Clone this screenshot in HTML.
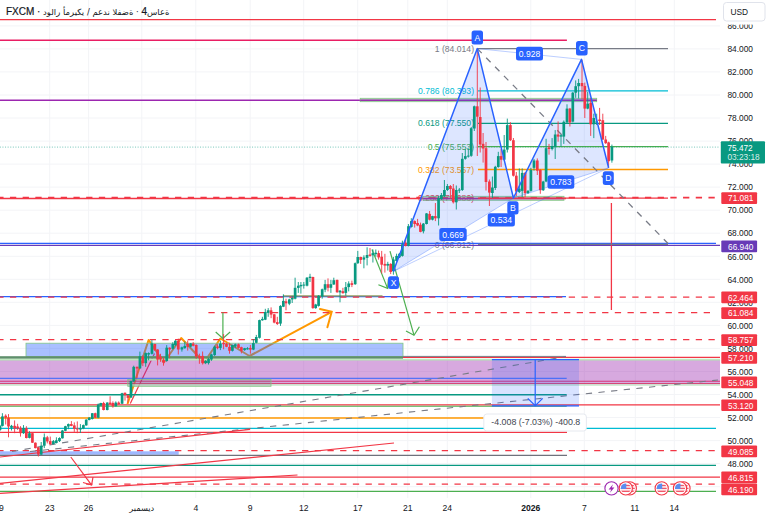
<!DOCTYPE html>
<html><head><meta charset="utf-8"><title>chart</title>
<style>html,body{margin:0;padding:0;background:#fff;}body{width:768px;height:518px;overflow:hidden;font-family:"Liberation Sans","DejaVu Sans",sans-serif}svg{display:block}</style>
</head><body>
<svg width="768" height="518" viewBox="0 0 768 518" font-family="'Liberation Sans', 'DejaVu Sans', sans-serif">
<rect width="768" height="518" fill="#fff"/>
<g stroke="#f3f4f7" stroke-width="1">
<line x1="49.7" y1="0" x2="49.7" y2="498"/>
<line x1="88.6" y1="0" x2="88.6" y2="498"/>
<line x1="141.8" y1="0" x2="141.8" y2="498"/>
<line x1="195.8" y1="0" x2="195.8" y2="498"/>
<line x1="250.2" y1="0" x2="250.2" y2="498"/>
<line x1="303.7" y1="0" x2="303.7" y2="498"/>
<line x1="357.7" y1="0" x2="357.7" y2="498"/>
<line x1="407.8" y1="0" x2="407.8" y2="498"/>
<line x1="447.3" y1="0" x2="447.3" y2="498"/>
<line x1="530.8" y1="0" x2="530.8" y2="498"/>
<line x1="584.3" y1="0" x2="584.3" y2="498"/>
<line x1="635.3" y1="0" x2="635.3" y2="498"/>
<line x1="674.3" y1="0" x2="674.3" y2="498"/>
<line x1="0" y1="486.7" x2="720" y2="486.7"/>
<line x1="0" y1="463.6" x2="720" y2="463.6"/>
<line x1="0" y1="440.6" x2="720" y2="440.6"/>
<line x1="0" y1="417.5" x2="720" y2="417.5"/>
<line x1="0" y1="394.5" x2="720" y2="394.5"/>
<line x1="0" y1="371.5" x2="720" y2="371.5"/>
<line x1="0" y1="348.4" x2="720" y2="348.4"/>
<line x1="0" y1="325.4" x2="720" y2="325.4"/>
<line x1="0" y1="302.3" x2="720" y2="302.3"/>
<line x1="0" y1="279.3" x2="720" y2="279.3"/>
<line x1="0" y1="256.3" x2="720" y2="256.3"/>
<line x1="0" y1="233.2" x2="720" y2="233.2"/>
<line x1="0" y1="210.2" x2="720" y2="210.2"/>
<line x1="0" y1="187.1" x2="720" y2="187.1"/>
<line x1="0" y1="164.1" x2="720" y2="164.1"/>
<line x1="0" y1="141.1" x2="720" y2="141.1"/>
<line x1="0" y1="118.0" x2="720" y2="118.0"/>
<line x1="0" y1="95.0" x2="720" y2="95.0"/>
<line x1="0" y1="71.9" x2="720" y2="71.9"/>
<line x1="0" y1="48.9" x2="720" y2="48.9"/>
<line x1="0" y1="25.9" x2="720" y2="25.9"/>
</g>
<text x="474.0" y="51.7" font-size="8.6" fill="#787b86" text-anchor="end">1 (84.014)</text>
<text x="474.0" y="93.9" font-size="8.6" fill="#00bcd4" text-anchor="end">0.786 (80.393)</text>
<text x="474.0" y="126.4" font-size="8.6" fill="#089981" text-anchor="end">0.618 (77.550)</text>
<text x="474.0" y="149.7" font-size="8.6" fill="#4caf50" text-anchor="end">0.5 (75.553)</text>
<text x="474.0" y="172.6" font-size="8.6" fill="#ff9800" text-anchor="end">0.382 (73.557)</text>
<text x="474.0" y="201.3" font-size="8.6" fill="#f23645" text-anchor="end">0.236 (71.086)</text>
<text x="474.0" y="247.5" font-size="8.6" fill="#787b86" text-anchor="end">0 (66.912)</text>
<line x1="0.0" y1="19.6" x2="716.0" y2="19.6" stroke="#f23645" stroke-width="1.4"/>
<line x1="0.0" y1="40.2" x2="566.9" y2="40.2" stroke="#e91e63" stroke-width="1.4"/>
<line x1="0.0" y1="100.3" x2="597.0" y2="100.3" stroke="#9c27b0" stroke-width="1.4"/>
<rect x="360.2" y="98.3" width="236.5" height="3.4" fill="#787b86" fill-opacity="0.35" stroke="#81c784" stroke-width="0.8"/>
<line x1="360.0" y1="100.3" x2="597.0" y2="100.3" stroke="#9c27b0" stroke-width="1" stroke-opacity="0.8"/>
<polyline points="127.5,404 148.6,340 163.8,362.5 181.2,338 204,362.5 220.4,338.5 249.5,356 331.7,311.8" fill="none" stroke="#ff9800" stroke-width="2" stroke-linejoin="round"/>
<polyline points="320,309 331.7,311.8 327.4,327.3" fill="none" stroke="#ff9800" stroke-width="2" stroke-linecap="round"/>
<line x1="130.3" y1="403.4" x2="154.5" y2="353.5" stroke="#f23645" stroke-width="1.2"/>
<rect x="26.0" y="343.2" width="377.0" height="13.2" fill="#2962ff" fill-opacity="0.4" stroke="#81c784" stroke-width="0.8"/>
<rect x="0.0" y="356.2" width="403.0" height="2.6" fill="#5f8f6c"/>
<line x1="0.0" y1="359.8" x2="720.0" y2="359.8" stroke="#bfe8bf" stroke-width="1.9"/>
<line x1="403.0" y1="357.3" x2="720.0" y2="357.3" stroke="#f23645" stroke-width="1.2"/>
<line x1="403.0" y1="356.4" x2="566.0" y2="356.4" stroke="#787b86" stroke-width="1"/>
<rect x="-2.0" y="360.5" width="722.0" height="24.2" fill="#9c27b0" fill-opacity="0.4"/>
<line x1="0.0" y1="378.3" x2="566.7" y2="378.3" stroke="#2962ff" stroke-width="1.3" stroke-opacity="0.75"/>
<line x1="0.0" y1="381.2" x2="720.0" y2="381.2" stroke="#d81b60" stroke-width="1.1" stroke-opacity="0.8"/>
<line x1="0.0" y1="383.5" x2="720.0" y2="383.5" stroke="#d32f5f" stroke-width="1.0" stroke-opacity="0.8"/>
<line x1="0.0" y1="385.0" x2="720.0" y2="385.0" stroke="#c8e6c9" stroke-width="1.3"/>
<rect x="127.8" y="379.3" width="143.2" height="7.0" fill="#787b86" fill-opacity="0.25" stroke="#81c784" stroke-width="0.8"/>
<line x1="0.0" y1="394.8" x2="566.7" y2="394.8" stroke="#089981" stroke-width="1.4"/>
<line x1="0.0" y1="404.8" x2="720.0" y2="404.8" stroke="#f23645" stroke-width="1.3"/>
<line x1="0.0" y1="406.3" x2="566.7" y2="406.3" stroke="#4caf50" stroke-width="1.1"/>
<line x1="0.0" y1="417.9" x2="483.6" y2="417.9" stroke="#ff9800" stroke-width="1.5"/>
<line x1="0.0" y1="428.3" x2="716.0" y2="428.3" stroke="#00bcd4" stroke-width="1.3"/>
<line x1="0.0" y1="432.4" x2="567.0" y2="432.4" stroke="#f23645" stroke-width="1.2"/>
<line x1="0.0" y1="450.6" x2="716.0" y2="450.6" stroke="#f23645" stroke-width="1.3" stroke-dasharray="6.3 6.4" stroke-dashoffset="2.75"/>
<rect x="-2.0" y="451.3" width="180.7" height="3.5" fill="#2962ff" fill-opacity="0.45"/>
<line x1="0.0" y1="455.4" x2="567.0" y2="455.4" stroke="#6f727c" stroke-width="1.3"/>
<line x1="0.0" y1="465.3" x2="716.0" y2="465.3" stroke="#089981" stroke-width="1.3"/>
<line x1="0.0" y1="477.1" x2="720.0" y2="477.1" stroke="#f23645" stroke-width="1.3"/>
<line x1="0.0" y1="484.1" x2="716.0" y2="484.1" stroke="#f23645" stroke-width="1.3" stroke-dasharray="6.3 6.4" stroke-dashoffset="2.75"/>
<line x1="0.0" y1="491.4" x2="716.0" y2="491.4" stroke="#4caf50" stroke-width="1.3"/>
<line x1="0.0" y1="243.3" x2="716.0" y2="243.3" stroke="#2962ff" stroke-width="1.3"/>
<line x1="0.0" y1="245.3" x2="720.0" y2="245.3" stroke="#673ab7" stroke-width="1.3"/>
<line x1="0.0" y1="296.6" x2="566.0" y2="296.6" stroke="#2962ff" stroke-width="1.2"/>
<rect x="283.0" y="295.3" width="99.5" height="1.3" fill="#8a9a5b"/>
<line x1="0.0" y1="297.2" x2="716.0" y2="297.2" stroke="#f23645" stroke-width="1.2" stroke-dasharray="6.3 6.4" stroke-dashoffset="2.75"/>
<line x1="208.4" y1="312.6" x2="716.0" y2="312.6" stroke="#f23645" stroke-width="1.3" stroke-dasharray="6.3 6.4"/>
<line x1="0.0" y1="339.7" x2="716.0" y2="339.7" stroke="#f23645" stroke-width="1.3" stroke-dasharray="6.3 6.4" stroke-dashoffset="2.75"/>
<line x1="0.0" y1="198.5" x2="566.0" y2="198.5" stroke="#f23645" stroke-width="1.5"/>
<line x1="0.0" y1="197.6" x2="716.0" y2="197.6" stroke="#f23645" stroke-width="1.6" stroke-dasharray="6.3 6.4" stroke-dashoffset="2.75"/>
<rect x="423.0" y="196.3" width="141.0" height="4.0" fill="#787b86" fill-opacity="0.35" stroke="#81c784" stroke-width="0.8"/>
<line x1="423.0" y1="198.6" x2="564.0" y2="198.6" stroke="#9c27b0" stroke-width="1.2" stroke-opacity="0.7"/>
<line x1="12.0" y1="451.5" x2="566.0" y2="356.5" stroke="#787b86" stroke-width="1.1" stroke-dasharray="6.3 6.4"/>
<line x1="30.0" y1="451.5" x2="718.0" y2="380.0" stroke="#787b86" stroke-width="1.1" stroke-dasharray="6.3 6.4"/>
<line x1="0.0" y1="457.0" x2="250.0" y2="429.4" stroke="#f23645" stroke-width="1.2"/>
<line x1="0.0" y1="483.4" x2="394.0" y2="443.0" stroke="#f23645" stroke-width="1.2"/>
<line x1="0.0" y1="493.4" x2="297.5" y2="475.0" stroke="#f23645" stroke-width="1.2"/>
<line x1="70.8" y1="457.0" x2="91.6" y2="485.1" stroke="#f23645" stroke-width="1.2"/>
<polyline points="83,482.5 91.6,485.1 93,477" fill="none" stroke="#f23645" stroke-width="1.2"/>
<line x1="222.9" y1="312.6" x2="222.9" y2="338.4" stroke="#4caf50" stroke-width="1.2"/>
<polyline points="215.7,332 222.9,338.4 230.1,332" fill="none" stroke="#4caf50" stroke-width="1.2"/>
<line x1="372.0" y1="249.5" x2="387.6" y2="288.4" stroke="#4caf50" stroke-width="1.2"/>
<polyline points="378.4,284.8 387.6,288.4 388.4,279.3" fill="none" stroke="#4caf50" stroke-width="1.2"/>
<line x1="390.0" y1="251.2" x2="414.0" y2="335.2" stroke="#4caf50" stroke-width="1.2"/>
<polyline points="406,331 414,335.2 419.4,326.7" fill="none" stroke="#4caf50" stroke-width="1.2"/>
<line x1="611.4" y1="203.0" x2="611.4" y2="310.0" stroke="#f23645" stroke-width="1.3"/>
<polygon points="393.3,271.5 477.3,48.6 513.4,198" fill="#2962ff" fill-opacity="0.16"/>
<polygon points="513.4,198 581.5,59.4 608.6,167.8" fill="#2962ff" fill-opacity="0.16"/>
<line x1="478.0" y1="48.6" x2="668.0" y2="48.6" stroke="#787b86" stroke-width="1.3"/>
<line x1="478.0" y1="90.8" x2="668.0" y2="90.8" stroke="#00bcd4" stroke-width="1.3"/>
<line x1="478.0" y1="123.3" x2="668.0" y2="123.3" stroke="#089981" stroke-width="1.3"/>
<line x1="478.0" y1="146.6" x2="668.0" y2="146.6" stroke="#4caf50" stroke-width="1.3"/>
<line x1="478.0" y1="169.5" x2="668.0" y2="169.5" stroke="#ff9800" stroke-width="1.3"/>
<line x1="478.0" y1="198.2" x2="668.0" y2="198.2" stroke="#f23645" stroke-width="1.3"/>
<line x1="478.0" y1="244.4" x2="668.0" y2="244.4" stroke="#787b86" stroke-width="1.3"/>
<line x1="477.3" y1="48.6" x2="668.0" y2="243.5" stroke="#787b86" stroke-width="1.3" stroke-dasharray="6.3 6.4"/>
<line x1="0.0" y1="147.1" x2="720.0" y2="147.1" stroke="#089981" stroke-width="0.8" stroke-dasharray="1 1.6" stroke-dashoffset="2.75" stroke-opacity="0.7"/>
<g>
<line x1="0.0" y1="424.9" x2="0.0" y2="431.2" stroke="#089981" stroke-width="0.9"/>
<rect x="-1.35" y="425.8" width="2.7" height="4.1" fill="#089981"/>
<line x1="2.4" y1="413.2" x2="2.4" y2="426.5" stroke="#089981" stroke-width="0.9"/>
<rect x="1.08" y="416.4" width="2.7" height="9.5" fill="#089981"/>
<line x1="5.7" y1="414.3" x2="5.7" y2="424.5" stroke="#f23645" stroke-width="0.9"/>
<rect x="4.33" y="415.7" width="2.7" height="2.0" fill="#f23645"/>
<line x1="8.5" y1="414.1" x2="8.5" y2="437.3" stroke="#f23645" stroke-width="0.9"/>
<rect x="7.16" y="417.7" width="2.7" height="8.8" fill="#f23645"/>
<line x1="11.5" y1="424.9" x2="11.5" y2="430.5" stroke="#089981" stroke-width="0.9"/>
<rect x="10.14" y="425.8" width="2.7" height="2.0" fill="#089981"/>
<line x1="14.6" y1="420.4" x2="14.6" y2="433.2" stroke="#f23645" stroke-width="0.9"/>
<rect x="13.24" y="425.8" width="2.7" height="2.7" fill="#f23645"/>
<line x1="17.6" y1="423.8" x2="17.6" y2="429.9" stroke="#f23645" stroke-width="0.9"/>
<rect x="16.22" y="426.5" width="2.7" height="2.0" fill="#f23645"/>
<line x1="20.5" y1="426.2" x2="20.5" y2="436.6" stroke="#f23645" stroke-width="0.9"/>
<rect x="19.19" y="427.8" width="2.7" height="5.4" fill="#f23645"/>
<line x1="23.5" y1="425.1" x2="23.5" y2="433.9" stroke="#089981" stroke-width="0.9"/>
<rect x="22.16" y="428.1" width="2.7" height="5.1" fill="#089981"/>
<line x1="26.4" y1="426.2" x2="26.4" y2="438.4" stroke="#f23645" stroke-width="0.9"/>
<rect x="25.00" y="428.1" width="2.7" height="9.9" fill="#f23645"/>
<line x1="29.5" y1="431.2" x2="29.5" y2="438.4" stroke="#089981" stroke-width="0.9"/>
<rect x="28.11" y="433.2" width="2.7" height="4.7" fill="#089981"/>
<line x1="32.4" y1="433.0" x2="32.4" y2="443.0" stroke="#f23645" stroke-width="0.9"/>
<rect x="31.08" y="433.2" width="2.7" height="9.5" fill="#f23645"/>
<line x1="35.4" y1="442.4" x2="35.4" y2="448.4" stroke="#f23645" stroke-width="0.9"/>
<rect x="34.06" y="442.7" width="2.7" height="5.4" fill="#f23645"/>
<line x1="38.4" y1="446.8" x2="38.4" y2="456.5" stroke="#f23645" stroke-width="0.9"/>
<rect x="37.03" y="447.4" width="2.7" height="7.2" fill="#f23645"/>
<line x1="41.2" y1="442.0" x2="41.2" y2="454.9" stroke="#089981" stroke-width="0.9"/>
<rect x="39.87" y="445.7" width="2.7" height="8.9" fill="#089981"/>
<line x1="44.3" y1="433.5" x2="44.3" y2="448.1" stroke="#089981" stroke-width="0.9"/>
<rect x="42.97" y="437.3" width="2.7" height="8.4" fill="#089981"/>
<line x1="47.3" y1="435.9" x2="47.3" y2="443.4" stroke="#f23645" stroke-width="0.9"/>
<rect x="45.95" y="437.3" width="2.7" height="4.1" fill="#f23645"/>
<line x1="50.3" y1="436.6" x2="50.3" y2="444.7" stroke="#f23645" stroke-width="0.9"/>
<rect x="48.92" y="441.1" width="2.7" height="3.2" fill="#f23645"/>
<line x1="53.4" y1="440.0" x2="53.4" y2="444.3" stroke="#089981" stroke-width="0.9"/>
<rect x="52.03" y="441.1" width="2.7" height="3.0" fill="#089981"/>
<line x1="56.4" y1="437.3" x2="56.4" y2="443.4" stroke="#089981" stroke-width="0.9"/>
<rect x="55.00" y="440.3" width="2.7" height="2.7" fill="#089981"/>
<line x1="59.5" y1="437.3" x2="59.5" y2="442.0" stroke="#089981" stroke-width="0.9"/>
<rect x="58.11" y="438.0" width="2.7" height="3.1" fill="#089981"/>
<line x1="62.4" y1="429.9" x2="62.4" y2="438.6" stroke="#089981" stroke-width="0.9"/>
<rect x="61.08" y="430.5" width="2.7" height="7.8" fill="#089981"/>
<line x1="65.4" y1="425.8" x2="65.4" y2="431.2" stroke="#089981" stroke-width="0.9"/>
<rect x="64.06" y="426.2" width="2.7" height="4.6" fill="#089981"/>
<line x1="68.4" y1="423.5" x2="68.4" y2="429.2" stroke="#089981" stroke-width="0.9"/>
<rect x="67.03" y="424.1" width="2.7" height="2.4" fill="#089981"/>
<line x1="71.4" y1="421.1" x2="71.4" y2="426.2" stroke="#f23645" stroke-width="0.9"/>
<rect x="70.00" y="424.1" width="2.7" height="1.8" fill="#f23645"/>
<line x1="74.3" y1="422.4" x2="74.3" y2="431.9" stroke="#f23645" stroke-width="0.9"/>
<rect x="72.97" y="425.4" width="2.7" height="3.5" fill="#f23645"/>
<line x1="77.3" y1="421.4" x2="77.3" y2="433.2" stroke="#f23645" stroke-width="0.9"/>
<rect x="75.95" y="428.5" width="2.7" height="1.0" fill="#f23645"/>
<line x1="80.4" y1="424.1" x2="80.4" y2="433.0" stroke="#089981" stroke-width="0.9"/>
<rect x="79.06" y="428.1" width="2.7" height="1.4" fill="#089981"/>
<line x1="83.4" y1="424.5" x2="83.4" y2="429.2" stroke="#089981" stroke-width="0.9"/>
<rect x="82.03" y="425.1" width="2.7" height="3.4" fill="#089981"/>
<line x1="86.2" y1="419.1" x2="86.2" y2="425.8" stroke="#089981" stroke-width="0.9"/>
<rect x="84.87" y="419.7" width="2.7" height="5.7" fill="#089981"/>
<line x1="89.2" y1="417.0" x2="89.2" y2="420.4" stroke="#089981" stroke-width="0.9"/>
<rect x="87.84" y="417.7" width="2.7" height="2.3" fill="#089981"/>
<line x1="92.3" y1="413.0" x2="92.3" y2="419.5" stroke="#089981" stroke-width="0.9"/>
<rect x="90.95" y="413.2" width="2.7" height="5.8" fill="#089981"/>
<line x1="95.3" y1="412.7" x2="95.3" y2="418.1" stroke="#f23645" stroke-width="0.9"/>
<rect x="93.92" y="413.2" width="2.7" height="4.5" fill="#f23645"/>
<line x1="98.2" y1="403.5" x2="98.2" y2="418.4" stroke="#089981" stroke-width="0.9"/>
<rect x="96.89" y="404.6" width="2.7" height="13.1" fill="#089981"/>
<line x1="100.8" y1="402.8" x2="100.8" y2="405.9" stroke="#089981" stroke-width="0.9"/>
<rect x="99.40" y="403.0" width="2.7" height="2.7" fill="#089981"/>
<line x1="103.6" y1="401.8" x2="103.6" y2="410.4" stroke="#f23645" stroke-width="0.9"/>
<rect x="102.21" y="403.0" width="2.7" height="7.0" fill="#f23645"/>
<line x1="107.2" y1="402.2" x2="107.2" y2="410.4" stroke="#089981" stroke-width="0.9"/>
<rect x="105.88" y="402.6" width="2.7" height="7.4" fill="#089981"/>
<line x1="110.1" y1="396.3" x2="110.1" y2="404.5" stroke="#f23645" stroke-width="0.9"/>
<rect x="108.78" y="402.6" width="2.7" height="1.6" fill="#f23645"/>
<line x1="112.9" y1="401.4" x2="112.9" y2="407.7" stroke="#f23645" stroke-width="0.9"/>
<rect x="111.59" y="403.0" width="2.7" height="3.3" fill="#f23645"/>
<line x1="115.8" y1="401.4" x2="115.8" y2="406.5" stroke="#089981" stroke-width="0.9"/>
<rect x="114.48" y="402.6" width="2.7" height="3.7" fill="#089981"/>
<line x1="118.7" y1="401.4" x2="118.7" y2="404.5" stroke="#f23645" stroke-width="0.9"/>
<rect x="117.37" y="402.6" width="2.7" height="1.6" fill="#f23645"/>
<line x1="122.1" y1="392.8" x2="122.1" y2="404.1" stroke="#089981" stroke-width="0.9"/>
<rect x="120.73" y="393.2" width="2.7" height="10.5" fill="#089981"/>
<line x1="125.0" y1="392.4" x2="125.0" y2="400.6" stroke="#f23645" stroke-width="0.9"/>
<rect x="123.62" y="392.8" width="2.7" height="2.3" fill="#f23645"/>
<line x1="127.9" y1="394.8" x2="127.9" y2="402.6" stroke="#f23645" stroke-width="0.9"/>
<rect x="126.59" y="395.2" width="2.7" height="2.7" fill="#f23645"/>
<line x1="131.0" y1="380.6" x2="131.0" y2="398.0" stroke="#089981" stroke-width="0.9"/>
<rect x="129.61" y="381.0" width="2.7" height="16.5" fill="#089981"/>
<line x1="133.7" y1="365.7" x2="133.7" y2="382.0" stroke="#089981" stroke-width="0.9"/>
<rect x="132.36" y="366.8" width="2.7" height="14.5" fill="#089981"/>
<line x1="137.0" y1="366.6" x2="137.0" y2="378.4" stroke="#f23645" stroke-width="0.9"/>
<rect x="135.69" y="366.8" width="2.7" height="1.7" fill="#f23645"/>
<line x1="139.9" y1="351.6" x2="139.9" y2="369.0" stroke="#089981" stroke-width="0.9"/>
<rect x="138.58" y="356.3" width="2.7" height="12.0" fill="#089981"/>
<line x1="142.8" y1="355.3" x2="142.8" y2="366.1" stroke="#f23645" stroke-width="0.9"/>
<rect x="141.48" y="356.7" width="2.7" height="6.5" fill="#f23645"/>
<line x1="145.7" y1="352.4" x2="145.7" y2="366.8" stroke="#089981" stroke-width="0.9"/>
<rect x="144.37" y="353.1" width="2.7" height="10.1" fill="#089981"/>
<line x1="148.6" y1="352.4" x2="148.6" y2="360.3" stroke="#089981" stroke-width="0.9"/>
<rect x="147.27" y="353.1" width="2.7" height="1.4" fill="#089981"/>
<line x1="151.9" y1="340.1" x2="151.9" y2="354.5" stroke="#089981" stroke-width="0.9"/>
<rect x="150.60" y="343.4" width="2.7" height="10.4" fill="#089981"/>
<line x1="154.8" y1="343.7" x2="154.8" y2="350.9" stroke="#f23645" stroke-width="0.9"/>
<rect x="153.49" y="344.0" width="2.7" height="6.2" fill="#f23645"/>
<line x1="157.6" y1="349.2" x2="157.6" y2="365.4" stroke="#f23645" stroke-width="0.9"/>
<rect x="156.24" y="349.5" width="2.7" height="10.1" fill="#f23645"/>
<line x1="160.5" y1="353.8" x2="160.5" y2="361.8" stroke="#f23645" stroke-width="0.9"/>
<rect x="159.14" y="356.7" width="2.7" height="2.9" fill="#f23645"/>
<line x1="163.5" y1="357.4" x2="163.5" y2="365.7" stroke="#f23645" stroke-width="0.9"/>
<rect x="162.18" y="359.6" width="2.7" height="2.9" fill="#f23645"/>
<line x1="166.7" y1="345.1" x2="166.7" y2="361.8" stroke="#089981" stroke-width="0.9"/>
<rect x="165.36" y="347.7" width="2.7" height="13.3" fill="#089981"/>
<line x1="169.6" y1="347.3" x2="169.6" y2="358.2" stroke="#f23645" stroke-width="0.9"/>
<rect x="168.26" y="347.7" width="2.7" height="1.7" fill="#f23645"/>
<line x1="172.8" y1="342.2" x2="172.8" y2="349.5" stroke="#089981" stroke-width="0.9"/>
<rect x="171.44" y="344.0" width="2.7" height="4.8" fill="#089981"/>
<line x1="175.4" y1="340.1" x2="175.4" y2="345.9" stroke="#089981" stroke-width="0.9"/>
<rect x="174.05" y="340.8" width="2.7" height="4.3" fill="#089981"/>
<line x1="178.3" y1="338.6" x2="178.3" y2="354.5" stroke="#f23645" stroke-width="0.9"/>
<rect x="176.94" y="340.8" width="2.7" height="8.7" fill="#f23645"/>
<line x1="181.9" y1="346.6" x2="181.9" y2="351.6" stroke="#089981" stroke-width="0.9"/>
<rect x="180.56" y="347.3" width="2.7" height="2.2" fill="#089981"/>
<line x1="184.8" y1="341.5" x2="184.8" y2="348.8" stroke="#089981" stroke-width="0.9"/>
<rect x="183.45" y="345.9" width="2.7" height="2.2" fill="#089981"/>
<line x1="187.7" y1="340.5" x2="187.7" y2="350.6" stroke="#f23645" stroke-width="0.9"/>
<rect x="186.35" y="343.7" width="2.7" height="3.2" fill="#f23645"/>
<line x1="190.6" y1="343.0" x2="190.6" y2="347.3" stroke="#089981" stroke-width="0.9"/>
<rect x="189.24" y="343.4" width="2.7" height="3.2" fill="#089981"/>
<line x1="193.2" y1="342.1" x2="193.2" y2="346.4" stroke="#f23645" stroke-width="0.9"/>
<rect x="191.83" y="343.6" width="2.7" height="2.2" fill="#f23645"/>
<line x1="196.2" y1="344.3" x2="196.2" y2="358.8" stroke="#f23645" stroke-width="0.9"/>
<rect x="194.87" y="345.0" width="2.7" height="11.6" fill="#f23645"/>
<line x1="199.4" y1="353.7" x2="199.4" y2="363.8" stroke="#f23645" stroke-width="0.9"/>
<rect x="198.06" y="355.9" width="2.7" height="2.2" fill="#f23645"/>
<line x1="202.6" y1="351.5" x2="202.6" y2="364.5" stroke="#f23645" stroke-width="0.9"/>
<rect x="201.24" y="355.9" width="2.7" height="7.2" fill="#f23645"/>
<line x1="205.6" y1="360.2" x2="205.6" y2="364.1" stroke="#089981" stroke-width="0.9"/>
<rect x="204.28" y="360.9" width="2.7" height="2.2" fill="#089981"/>
<line x1="208.5" y1="358.0" x2="208.5" y2="364.5" stroke="#089981" stroke-width="0.9"/>
<rect x="207.18" y="358.8" width="2.7" height="4.3" fill="#089981"/>
<line x1="211.4" y1="353.7" x2="211.4" y2="360.9" stroke="#089981" stroke-width="0.9"/>
<rect x="210.07" y="354.4" width="2.7" height="5.1" fill="#089981"/>
<line x1="214.6" y1="345.7" x2="214.6" y2="355.9" stroke="#089981" stroke-width="0.9"/>
<rect x="213.26" y="346.7" width="2.7" height="8.4" fill="#089981"/>
<line x1="217.5" y1="344.3" x2="217.5" y2="349.3" stroke="#f23645" stroke-width="0.9"/>
<rect x="216.15" y="346.4" width="2.7" height="1.7" fill="#f23645"/>
<line x1="220.4" y1="340.7" x2="220.4" y2="350.1" stroke="#089981" stroke-width="0.9"/>
<rect x="219.05" y="343.6" width="2.7" height="4.3" fill="#089981"/>
<line x1="223.6" y1="334.1" x2="223.6" y2="349.3" stroke="#f23645" stroke-width="0.9"/>
<rect x="222.23" y="342.8" width="2.7" height="1.4" fill="#f23645"/>
<line x1="226.5" y1="342.8" x2="226.5" y2="347.2" stroke="#f23645" stroke-width="0.9"/>
<rect x="225.12" y="343.6" width="2.7" height="3.2" fill="#f23645"/>
<line x1="229.5" y1="342.8" x2="229.5" y2="353.7" stroke="#f23645" stroke-width="0.9"/>
<rect x="228.16" y="346.9" width="2.7" height="3.9" fill="#f23645"/>
<line x1="232.4" y1="344.7" x2="232.4" y2="351.5" stroke="#089981" stroke-width="0.9"/>
<rect x="231.06" y="345.0" width="2.7" height="5.8" fill="#089981"/>
<line x1="235.3" y1="343.6" x2="235.3" y2="347.9" stroke="#089981" stroke-width="0.9"/>
<rect x="233.95" y="344.3" width="2.7" height="2.2" fill="#089981"/>
<line x1="238.5" y1="343.6" x2="238.5" y2="348.6" stroke="#f23645" stroke-width="0.9"/>
<rect x="237.14" y="344.3" width="2.7" height="3.6" fill="#f23645"/>
<line x1="241.4" y1="346.7" x2="241.4" y2="353.4" stroke="#f23645" stroke-width="0.9"/>
<rect x="240.03" y="347.2" width="2.7" height="3.6" fill="#f23645"/>
<line x1="244.6" y1="347.9" x2="244.6" y2="350.8" stroke="#089981" stroke-width="0.9"/>
<rect x="243.22" y="348.2" width="2.7" height="1.9" fill="#089981"/>
<line x1="247.5" y1="347.2" x2="247.5" y2="349.6" stroke="#089981" stroke-width="0.9"/>
<rect x="246.11" y="348.2" width="2.7" height="1.2" fill="#089981"/>
<line x1="250.4" y1="345.0" x2="250.4" y2="353.7" stroke="#f23645" stroke-width="0.9"/>
<rect x="249.01" y="347.9" width="2.7" height="1.7" fill="#f23645"/>
<line x1="253.4" y1="339.2" x2="253.4" y2="350.1" stroke="#089981" stroke-width="0.9"/>
<rect x="252.05" y="343.1" width="2.7" height="6.5" fill="#089981"/>
<line x1="256.3" y1="334.9" x2="256.3" y2="343.3" stroke="#089981" stroke-width="0.9"/>
<rect x="254.94" y="337.0" width="2.7" height="5.8" fill="#089981"/>
<line x1="259.5" y1="319.7" x2="259.5" y2="338.5" stroke="#089981" stroke-width="0.9"/>
<rect x="258.12" y="320.1" width="2.7" height="17.7" fill="#089981"/>
<line x1="262.4" y1="316.8" x2="262.4" y2="320.7" stroke="#089981" stroke-width="0.9"/>
<rect x="261.02" y="318.9" width="2.7" height="1.4" fill="#089981"/>
<line x1="265.3" y1="308.8" x2="265.3" y2="320.1" stroke="#089981" stroke-width="0.9"/>
<rect x="263.91" y="312.0" width="2.7" height="7.7" fill="#089981"/>
<line x1="268.2" y1="308.1" x2="268.2" y2="316.8" stroke="#089981" stroke-width="0.9"/>
<rect x="266.81" y="310.3" width="2.7" height="2.6" fill="#089981"/>
<line x1="271.1" y1="307.4" x2="271.1" y2="318.2" stroke="#f23645" stroke-width="0.9"/>
<rect x="269.70" y="310.3" width="2.7" height="4.3" fill="#f23645"/>
<line x1="274.2" y1="313.9" x2="274.2" y2="323.3" stroke="#f23645" stroke-width="0.9"/>
<rect x="272.89" y="314.3" width="2.7" height="8.3" fill="#f23645"/>
<line x1="277.3" y1="316.8" x2="277.3" y2="325.0" stroke="#f23645" stroke-width="0.9"/>
<rect x="275.93" y="322.1" width="2.7" height="1.9" fill="#f23645"/>
<line x1="280.5" y1="305.2" x2="280.5" y2="325.9" stroke="#089981" stroke-width="0.9"/>
<rect x="279.11" y="305.9" width="2.7" height="17.7" fill="#089981"/>
<line x1="283.4" y1="294.3" x2="283.4" y2="307.1" stroke="#089981" stroke-width="0.9"/>
<rect x="282.01" y="300.9" width="2.7" height="5.8" fill="#089981"/>
<line x1="286.0" y1="298.7" x2="286.0" y2="310.3" stroke="#f23645" stroke-width="0.9"/>
<rect x="284.61" y="301.3" width="2.7" height="2.0" fill="#f23645"/>
<line x1="289.3" y1="298.7" x2="289.3" y2="305.2" stroke="#089981" stroke-width="0.9"/>
<rect x="287.99" y="299.4" width="2.7" height="4.3" fill="#089981"/>
<line x1="292.2" y1="295.8" x2="292.2" y2="303.0" stroke="#089981" stroke-width="0.9"/>
<rect x="290.89" y="298.0" width="2.7" height="1.4" fill="#089981"/>
<line x1="295.1" y1="277.7" x2="295.1" y2="299.4" stroke="#089981" stroke-width="0.9"/>
<rect x="293.78" y="287.8" width="2.7" height="10.9" fill="#089981"/>
<line x1="298.3" y1="282.0" x2="298.3" y2="292.9" stroke="#089981" stroke-width="0.9"/>
<rect x="296.97" y="285.7" width="2.7" height="2.2" fill="#089981"/>
<line x1="300.9" y1="282.0" x2="300.9" y2="293.6" stroke="#089981" stroke-width="0.9"/>
<rect x="299.57" y="284.9" width="2.7" height="1.4" fill="#089981"/>
<line x1="303.8" y1="282.0" x2="303.8" y2="288.6" stroke="#089981" stroke-width="0.9"/>
<rect x="302.47" y="284.6" width="2.7" height="1.0" fill="#089981"/>
<line x1="307.0" y1="277.0" x2="307.0" y2="286.4" stroke="#089981" stroke-width="0.9"/>
<rect x="305.65" y="277.7" width="2.7" height="8.0" fill="#089981"/>
<line x1="310.0" y1="273.8" x2="310.0" y2="282.0" stroke="#089981" stroke-width="0.9"/>
<rect x="308.69" y="276.7" width="2.7" height="1.3" fill="#089981"/>
<line x1="312.9" y1="276.7" x2="312.9" y2="308.8" stroke="#f23645" stroke-width="0.9"/>
<rect x="311.58" y="277.0" width="2.7" height="31.1" fill="#f23645"/>
<line x1="315.7" y1="303.8" x2="315.7" y2="308.8" stroke="#089981" stroke-width="0.9"/>
<rect x="314.33" y="304.5" width="2.7" height="3.6" fill="#089981"/>
<line x1="318.6" y1="295.1" x2="318.6" y2="306.6" stroke="#089981" stroke-width="0.9"/>
<rect x="317.23" y="295.8" width="2.7" height="10.1" fill="#089981"/>
<line x1="322.2" y1="288.6" x2="322.2" y2="298.7" stroke="#089981" stroke-width="0.9"/>
<rect x="320.85" y="289.3" width="2.7" height="7.2" fill="#089981"/>
<line x1="325.1" y1="279.9" x2="325.1" y2="292.2" stroke="#089981" stroke-width="0.9"/>
<rect x="323.74" y="284.2" width="2.7" height="5.5" fill="#089981"/>
<line x1="328.0" y1="278.4" x2="328.0" y2="291.4" stroke="#f23645" stroke-width="0.9"/>
<rect x="326.64" y="284.2" width="2.7" height="3.6" fill="#f23645"/>
<line x1="330.9" y1="279.9" x2="330.9" y2="292.9" stroke="#089981" stroke-width="0.9"/>
<rect x="329.53" y="284.2" width="2.7" height="3.6" fill="#089981"/>
<line x1="333.8" y1="277.7" x2="333.8" y2="284.9" stroke="#089981" stroke-width="0.9"/>
<rect x="332.43" y="280.2" width="2.7" height="4.3" fill="#089981"/>
<line x1="337.1" y1="279.6" x2="337.1" y2="292.9" stroke="#f23645" stroke-width="0.9"/>
<rect x="335.76" y="279.9" width="2.7" height="12.3" fill="#f23645"/>
<line x1="340.0" y1="290.0" x2="340.0" y2="302.3" stroke="#089981" stroke-width="0.9"/>
<rect x="338.65" y="290.7" width="2.7" height="1.7" fill="#089981"/>
<line x1="342.9" y1="287.8" x2="342.9" y2="293.6" stroke="#f23645" stroke-width="0.9"/>
<rect x="341.55" y="291.2" width="2.7" height="2.0" fill="#f23645"/>
<line x1="345.8" y1="282.0" x2="345.8" y2="295.8" stroke="#089981" stroke-width="0.9"/>
<rect x="344.44" y="287.1" width="2.7" height="5.8" fill="#089981"/>
<line x1="348.7" y1="281.3" x2="348.7" y2="291.4" stroke="#089981" stroke-width="0.9"/>
<rect x="347.34" y="283.5" width="2.7" height="3.6" fill="#089981"/>
<line x1="351.9" y1="280.6" x2="351.9" y2="287.1" stroke="#f23645" stroke-width="0.9"/>
<rect x="350.52" y="283.2" width="2.7" height="1.7" fill="#f23645"/>
<line x1="355.2" y1="262.5" x2="355.2" y2="284.9" stroke="#089981" stroke-width="0.9"/>
<rect x="353.85" y="263.2" width="2.7" height="21.0" fill="#089981"/>
<line x1="357.8" y1="250.9" x2="357.8" y2="263.9" stroke="#089981" stroke-width="0.9"/>
<rect x="356.45" y="257.0" width="2.7" height="6.2" fill="#089981"/>
<line x1="360.7" y1="256.7" x2="360.7" y2="263.9" stroke="#f23645" stroke-width="0.9"/>
<rect x="359.35" y="257.0" width="2.7" height="2.9" fill="#f23645"/>
<line x1="363.9" y1="255.3" x2="363.9" y2="268.3" stroke="#089981" stroke-width="0.9"/>
<rect x="362.53" y="257.4" width="2.7" height="2.2" fill="#089981"/>
<line x1="367.1" y1="247.3" x2="367.1" y2="265.4" stroke="#089981" stroke-width="0.9"/>
<rect x="365.72" y="255.0" width="2.7" height="2.9" fill="#089981"/>
<line x1="370.0" y1="248.0" x2="370.0" y2="256.7" stroke="#f23645" stroke-width="0.9"/>
<rect x="368.61" y="254.5" width="2.7" height="1.4" fill="#f23645"/>
<line x1="372.9" y1="249.5" x2="372.9" y2="262.5" stroke="#089981" stroke-width="0.9"/>
<rect x="371.51" y="253.1" width="2.7" height="2.2" fill="#089981"/>
<line x1="375.8" y1="249.5" x2="375.8" y2="256.7" stroke="#089981" stroke-width="0.9"/>
<rect x="374.40" y="252.7" width="2.7" height="1.4" fill="#089981"/>
<line x1="378.6" y1="250.6" x2="378.6" y2="259.6" stroke="#f23645" stroke-width="0.9"/>
<rect x="377.30" y="253.1" width="2.7" height="4.3" fill="#f23645"/>
<line x1="381.7" y1="250.9" x2="381.7" y2="273.4" stroke="#f23645" stroke-width="0.9"/>
<rect x="380.34" y="256.7" width="2.7" height="8.0" fill="#f23645"/>
<line x1="384.9" y1="253.8" x2="384.9" y2="272.6" stroke="#f23645" stroke-width="0.9"/>
<rect x="383.52" y="263.9" width="2.7" height="1.7" fill="#f23645"/>
<line x1="387.8" y1="261.8" x2="387.8" y2="270.5" stroke="#089981" stroke-width="0.9"/>
<rect x="386.41" y="263.9" width="2.7" height="1.7" fill="#089981"/>
<line x1="390.7" y1="263.2" x2="390.7" y2="274.1" stroke="#f23645" stroke-width="0.9"/>
<rect x="389.31" y="263.9" width="2.7" height="8.0" fill="#f23645"/>
<line x1="393.4" y1="256.9" x2="393.4" y2="274.7" stroke="#089981" stroke-width="0.9"/>
<rect x="392.04" y="259.5" width="2.7" height="11.6" fill="#089981"/>
<line x1="396.6" y1="253.7" x2="396.6" y2="261.6" stroke="#089981" stroke-width="0.9"/>
<rect x="395.23" y="255.9" width="2.7" height="5.1" fill="#089981"/>
<line x1="399.5" y1="253.0" x2="399.5" y2="258.0" stroke="#089981" stroke-width="0.9"/>
<rect x="398.12" y="253.7" width="2.7" height="3.6" fill="#089981"/>
<line x1="402.4" y1="240.7" x2="402.4" y2="256.6" stroke="#089981" stroke-width="0.9"/>
<rect x="401.02" y="244.3" width="2.7" height="11.6" fill="#089981"/>
<line x1="405.6" y1="239.2" x2="405.6" y2="246.4" stroke="#f23645" stroke-width="0.9"/>
<rect x="404.20" y="242.8" width="2.7" height="2.9" fill="#f23645"/>
<line x1="408.4" y1="224.0" x2="408.4" y2="246.4" stroke="#089981" stroke-width="0.9"/>
<rect x="407.10" y="226.2" width="2.7" height="19.5" fill="#089981"/>
<line x1="411.3" y1="218.2" x2="411.3" y2="227.6" stroke="#089981" stroke-width="0.9"/>
<rect x="409.99" y="221.1" width="2.7" height="5.8" fill="#089981"/>
<line x1="414.7" y1="220.4" x2="414.7" y2="227.6" stroke="#f23645" stroke-width="0.9"/>
<rect x="413.32" y="221.1" width="2.7" height="2.9" fill="#f23645"/>
<line x1="417.6" y1="218.9" x2="417.6" y2="226.2" stroke="#f23645" stroke-width="0.9"/>
<rect x="416.22" y="223.0" width="2.7" height="2.5" fill="#f23645"/>
<line x1="420.5" y1="222.6" x2="420.5" y2="232.3" stroke="#f23645" stroke-width="0.9"/>
<rect x="419.11" y="224.7" width="2.7" height="7.2" fill="#f23645"/>
<line x1="423.4" y1="223.0" x2="423.4" y2="233.4" stroke="#089981" stroke-width="0.9"/>
<rect x="422.01" y="223.6" width="2.7" height="7.7" fill="#089981"/>
<line x1="426.5" y1="213.2" x2="426.5" y2="224.4" stroke="#089981" stroke-width="0.9"/>
<rect x="425.19" y="213.4" width="2.7" height="10.6" fill="#089981"/>
<line x1="429.6" y1="211.0" x2="429.6" y2="220.4" stroke="#f23645" stroke-width="0.9"/>
<rect x="428.23" y="213.9" width="2.7" height="5.8" fill="#f23645"/>
<line x1="432.5" y1="215.8" x2="432.5" y2="220.4" stroke="#089981" stroke-width="0.9"/>
<rect x="431.12" y="216.1" width="2.7" height="3.6" fill="#089981"/>
<line x1="435.4" y1="203.0" x2="435.4" y2="221.1" stroke="#f23645" stroke-width="0.9"/>
<rect x="434.02" y="216.1" width="2.7" height="2.2" fill="#f23645"/>
<line x1="438.6" y1="195.8" x2="438.6" y2="225.5" stroke="#089981" stroke-width="0.9"/>
<rect x="437.20" y="198.0" width="2.7" height="20.3" fill="#089981"/>
<line x1="441.4" y1="193.0" x2="441.4" y2="200.0" stroke="#089981" stroke-width="0.9"/>
<rect x="440.05" y="195.0" width="2.7" height="4.0" fill="#089981"/>
<line x1="444.4" y1="180.0" x2="444.4" y2="197.0" stroke="#089981" stroke-width="0.9"/>
<rect x="443.05" y="190.0" width="2.7" height="6.0" fill="#089981"/>
<line x1="447.4" y1="184.0" x2="447.4" y2="191.0" stroke="#089981" stroke-width="0.9"/>
<rect x="446.05" y="186.0" width="2.7" height="4.0" fill="#089981"/>
<line x1="450.4" y1="185.0" x2="450.4" y2="199.0" stroke="#f23645" stroke-width="0.9"/>
<rect x="449.05" y="186.0" width="2.7" height="3.0" fill="#f23645"/>
<line x1="453.3" y1="184.0" x2="453.3" y2="203.5" stroke="#f23645" stroke-width="0.9"/>
<rect x="451.95" y="188.5" width="2.7" height="13.8" fill="#f23645"/>
<line x1="456.3" y1="185.5" x2="456.3" y2="209.5" stroke="#089981" stroke-width="0.9"/>
<rect x="454.95" y="190.0" width="2.7" height="12.3" fill="#089981"/>
<line x1="459.3" y1="188.0" x2="459.3" y2="193.0" stroke="#089981" stroke-width="0.9"/>
<rect x="457.95" y="189.6" width="2.7" height="1.0" fill="#089981"/>
<line x1="462.3" y1="153.0" x2="462.3" y2="191.0" stroke="#089981" stroke-width="0.9"/>
<rect x="460.95" y="158.8" width="2.7" height="31.2" fill="#089981"/>
<line x1="465.3" y1="149.0" x2="465.3" y2="159.7" stroke="#089981" stroke-width="0.9"/>
<rect x="463.95" y="156.1" width="2.7" height="2.7" fill="#089981"/>
<line x1="468.3" y1="148.3" x2="468.3" y2="157.6" stroke="#089981" stroke-width="0.9"/>
<rect x="466.95" y="155.6" width="2.7" height="1.0" fill="#089981"/>
<line x1="471.2" y1="127.2" x2="471.2" y2="156.8" stroke="#089981" stroke-width="0.9"/>
<rect x="469.85" y="128.2" width="2.7" height="27.6" fill="#089981"/>
<line x1="474.3" y1="105.6" x2="474.3" y2="131.0" stroke="#089981" stroke-width="0.9"/>
<rect x="472.95" y="106.3" width="2.7" height="22.2" fill="#089981"/>
<line x1="477.3" y1="48.5" x2="477.3" y2="156.0" stroke="#f23645" stroke-width="0.9"/>
<rect x="475.95" y="106.3" width="2.7" height="10.4" fill="#f23645"/>
<line x1="480.2" y1="87.5" x2="480.2" y2="152.5" stroke="#f23645" stroke-width="0.9"/>
<rect x="478.85" y="117.0" width="2.7" height="27.5" fill="#f23645"/>
<line x1="483.1" y1="133.0" x2="483.1" y2="162.6" stroke="#f23645" stroke-width="0.9"/>
<rect x="481.75" y="143.8" width="2.7" height="4.7" fill="#f23645"/>
<line x1="486.0" y1="142.0" x2="486.0" y2="190.5" stroke="#f23645" stroke-width="0.9"/>
<rect x="484.65" y="148.2" width="2.7" height="33.8" fill="#f23645"/>
<line x1="489.4" y1="179.5" x2="489.4" y2="206.0" stroke="#f23645" stroke-width="0.9"/>
<rect x="488.05" y="181.5" width="2.7" height="11.1" fill="#f23645"/>
<line x1="492.4" y1="176.5" x2="492.4" y2="198.0" stroke="#089981" stroke-width="0.9"/>
<rect x="491.05" y="187.5" width="2.7" height="5.5" fill="#089981"/>
<line x1="495.3" y1="165.8" x2="495.3" y2="190.0" stroke="#089981" stroke-width="0.9"/>
<rect x="493.95" y="166.8" width="2.7" height="21.2" fill="#089981"/>
<line x1="498.3" y1="151.8" x2="498.3" y2="167.7" stroke="#089981" stroke-width="0.9"/>
<rect x="496.95" y="156.1" width="2.7" height="10.9" fill="#089981"/>
<line x1="501.1" y1="149.0" x2="501.1" y2="167.0" stroke="#f23645" stroke-width="0.9"/>
<rect x="499.75" y="156.1" width="2.7" height="3.6" fill="#f23645"/>
<line x1="504.2" y1="135.0" x2="504.2" y2="160.5" stroke="#089981" stroke-width="0.9"/>
<rect x="502.85" y="149.6" width="2.7" height="10.1" fill="#089981"/>
<line x1="507.3" y1="118.6" x2="507.3" y2="152.5" stroke="#089981" stroke-width="0.9"/>
<rect x="505.95" y="125.1" width="2.7" height="24.5" fill="#089981"/>
<line x1="510.4" y1="122.2" x2="510.4" y2="141.0" stroke="#f23645" stroke-width="0.9"/>
<rect x="509.05" y="125.1" width="2.7" height="15.1" fill="#f23645"/>
<line x1="513.4" y1="138.0" x2="513.4" y2="176.5" stroke="#f23645" stroke-width="0.9"/>
<rect x="512.05" y="140.2" width="2.7" height="35.5" fill="#f23645"/>
<line x1="516.3" y1="172.0" x2="516.3" y2="196.0" stroke="#f23645" stroke-width="0.9"/>
<rect x="514.95" y="175.7" width="2.7" height="15.9" fill="#f23645"/>
<line x1="519.3" y1="168.4" x2="519.3" y2="193.0" stroke="#089981" stroke-width="0.9"/>
<rect x="517.95" y="188.7" width="2.7" height="3.2" fill="#089981"/>
<line x1="522.2" y1="168.4" x2="522.2" y2="197.0" stroke="#089981" stroke-width="0.9"/>
<rect x="520.85" y="172.9" width="2.7" height="18.0" fill="#089981"/>
<line x1="525.1" y1="172.0" x2="525.1" y2="197.4" stroke="#f23645" stroke-width="0.9"/>
<rect x="523.75" y="172.9" width="2.7" height="20.2" fill="#f23645"/>
<line x1="528.0" y1="190.0" x2="528.0" y2="194.0" stroke="#089981" stroke-width="0.9"/>
<rect x="526.65" y="190.9" width="2.7" height="2.2" fill="#089981"/>
<line x1="530.9" y1="167.8" x2="530.9" y2="191.6" stroke="#089981" stroke-width="0.9"/>
<rect x="529.55" y="169.9" width="2.7" height="21.0" fill="#089981"/>
<line x1="534.0" y1="159.0" x2="534.0" y2="170.7" stroke="#089981" stroke-width="0.9"/>
<rect x="532.65" y="160.5" width="2.7" height="7.3" fill="#089981"/>
<line x1="537.3" y1="158.4" x2="537.3" y2="175.0" stroke="#f23645" stroke-width="0.9"/>
<rect x="535.95" y="160.5" width="2.7" height="10.2" fill="#f23645"/>
<line x1="540.3" y1="169.2" x2="540.3" y2="193.8" stroke="#f23645" stroke-width="0.9"/>
<rect x="538.95" y="170.0" width="2.7" height="20.2" fill="#f23645"/>
<line x1="543.2" y1="180.8" x2="543.2" y2="191.0" stroke="#089981" stroke-width="0.9"/>
<rect x="541.85" y="181.5" width="2.7" height="8.7" fill="#089981"/>
<line x1="546.1" y1="138.8" x2="546.1" y2="182.2" stroke="#089981" stroke-width="0.9"/>
<rect x="544.75" y="148.2" width="2.7" height="33.3" fill="#089981"/>
<line x1="549.0" y1="143.9" x2="549.0" y2="154.7" stroke="#f23645" stroke-width="0.9"/>
<rect x="547.65" y="147.5" width="2.7" height="1.5" fill="#f23645"/>
<line x1="552.1" y1="138.1" x2="552.1" y2="150.4" stroke="#089981" stroke-width="0.9"/>
<rect x="550.75" y="146.0" width="2.7" height="3.0" fill="#089981"/>
<line x1="555.2" y1="130.1" x2="555.2" y2="159.0" stroke="#089981" stroke-width="0.9"/>
<rect x="553.85" y="134.5" width="2.7" height="12.3" fill="#089981"/>
<line x1="558.1" y1="121.4" x2="558.1" y2="141.7" stroke="#f23645" stroke-width="0.9"/>
<rect x="556.75" y="134.5" width="2.7" height="2.1" fill="#f23645"/>
<line x1="561.0" y1="134.5" x2="561.0" y2="146.8" stroke="#089981" stroke-width="0.9"/>
<rect x="559.65" y="135.2" width="2.7" height="1.4" fill="#089981"/>
<line x1="563.8" y1="120.5" x2="563.8" y2="143.9" stroke="#089981" stroke-width="0.9"/>
<rect x="562.45" y="121.8" width="2.7" height="14.8" fill="#089981"/>
<line x1="567.0" y1="104.3" x2="567.0" y2="123.2" stroke="#089981" stroke-width="0.9"/>
<rect x="565.65" y="108.6" width="2.7" height="13.8" fill="#089981"/>
<line x1="569.9" y1="107.9" x2="569.9" y2="126.5" stroke="#f23645" stroke-width="0.9"/>
<rect x="568.55" y="108.6" width="2.7" height="13.8" fill="#f23645"/>
<line x1="572.8" y1="92.0" x2="572.8" y2="122.4" stroke="#089981" stroke-width="0.9"/>
<rect x="571.45" y="92.7" width="2.7" height="28.9" fill="#089981"/>
<line x1="575.7" y1="80.4" x2="575.7" y2="97.8" stroke="#089981" stroke-width="0.9"/>
<rect x="574.35" y="86.2" width="2.7" height="6.5" fill="#089981"/>
<line x1="578.6" y1="78.9" x2="578.6" y2="98.5" stroke="#089981" stroke-width="0.9"/>
<rect x="577.25" y="83.0" width="2.7" height="3.2" fill="#089981"/>
<line x1="582.0" y1="59.8" x2="582.0" y2="99.2" stroke="#f23645" stroke-width="0.9"/>
<rect x="580.65" y="83.0" width="2.7" height="3.2" fill="#f23645"/>
<line x1="584.8" y1="82.6" x2="584.8" y2="118.0" stroke="#f23645" stroke-width="0.9"/>
<rect x="583.45" y="85.9" width="2.7" height="22.7" fill="#f23645"/>
<line x1="587.7" y1="92.0" x2="587.7" y2="109.3" stroke="#089981" stroke-width="0.9"/>
<rect x="586.35" y="103.6" width="2.7" height="5.0" fill="#089981"/>
<line x1="590.7" y1="97.8" x2="590.7" y2="135.9" stroke="#f23645" stroke-width="0.9"/>
<rect x="589.35" y="102.8" width="2.7" height="21.5" fill="#f23645"/>
<line x1="593.8" y1="113.7" x2="593.8" y2="138.1" stroke="#089981" stroke-width="0.9"/>
<rect x="592.45" y="118.0" width="2.7" height="6.3" fill="#089981"/>
<line x1="596.7" y1="113.7" x2="596.7" y2="125.0" stroke="#089981" stroke-width="0.9"/>
<rect x="595.35" y="121.5" width="2.7" height="1.0" fill="#089981"/>
<line x1="599.6" y1="107.9" x2="599.6" y2="125.0" stroke="#f23645" stroke-width="0.9"/>
<rect x="598.25" y="119.5" width="2.7" height="1.5" fill="#f23645"/>
<line x1="602.8" y1="113.7" x2="602.8" y2="140.0" stroke="#f23645" stroke-width="0.9"/>
<rect x="601.45" y="120.2" width="2.7" height="19.3" fill="#f23645"/>
<line x1="605.7" y1="135.9" x2="605.7" y2="143.9" stroke="#f23645" stroke-width="0.9"/>
<rect x="604.35" y="139.5" width="2.7" height="3.7" fill="#f23645"/>
<line x1="608.6" y1="141.7" x2="608.6" y2="167.8" stroke="#f23645" stroke-width="0.9"/>
<rect x="607.25" y="142.4" width="2.7" height="18.8" fill="#f23645"/>
<line x1="611.9" y1="144.6" x2="611.9" y2="162.7" stroke="#089981" stroke-width="0.9"/>
<rect x="610.55" y="146.8" width="2.7" height="13.7" fill="#089981"/>
</g>
<polyline points="393.3,271.5 477.3,48.6 513.4,198 581.5,59.4 608.6,167.8" fill="none" stroke="#2962ff" stroke-width="1.5" stroke-linejoin="round"/>
<line x1="393.3" y1="271.5" x2="513.4" y2="198.0" stroke="#2962ff" stroke-width="0.7" stroke-opacity="0.45"/>
<line x1="477.3" y1="48.6" x2="581.5" y2="59.4" stroke="#2962ff" stroke-width="0.7" stroke-opacity="0.45"/>
<line x1="513.4" y1="198.0" x2="608.6" y2="167.8" stroke="#2962ff" stroke-width="0.7" stroke-opacity="0.45"/>
<line x1="393.3" y1="271.5" x2="608.6" y2="167.8" stroke="#2962ff" stroke-width="0.7" stroke-opacity="0.45"/>
<rect x="388.0" y="276.2" width="11.0" height="12.7" fill="#2962ff" rx="2.5"/>
<text x="393.5" y="285.7" font-size="8.6" fill="#fff" text-anchor="middle">X</text>
<rect x="471.6" y="30.5" width="11.4" height="14.0" fill="#2962ff" rx="2.5"/>
<text x="477.3" y="40.6" font-size="8.6" fill="#fff" text-anchor="middle">A</text>
<rect x="507.3" y="201.3" width="11.2" height="13.3" fill="#2962ff" rx="2.5"/>
<text x="512.9" y="211.1" font-size="8.6" fill="#fff" text-anchor="middle">B</text>
<rect x="576.0" y="41.0" width="11.6" height="14.6" fill="#2962ff" rx="2.5"/>
<text x="581.8" y="51.4" font-size="8.6" fill="#fff" text-anchor="middle">C</text>
<rect x="602.8" y="171.3" width="11.0" height="13.7" fill="#2962ff" rx="2.5"/>
<text x="608.3" y="181.3" font-size="8.6" fill="#fff" text-anchor="middle">D</text>
<rect x="439.3" y="227.9" width="27.4" height="13.2" fill="#2962ff" rx="2.5"/>
<text x="453.0" y="237.6" font-size="8.6" fill="#fff" text-anchor="middle">0.669</text>
<rect x="487.7" y="213.3" width="27.2" height="13.3" fill="#2962ff" rx="2.5"/>
<text x="501.3" y="223.1" font-size="8.6" fill="#fff" text-anchor="middle">0.534</text>
<rect x="516.0" y="46.7" width="27.0" height="13.8" fill="#2962ff" rx="2.5"/>
<text x="529.5" y="56.7" font-size="8.6" fill="#fff" text-anchor="middle">0.928</text>
<rect x="547.5" y="175.2" width="26.8" height="13.5" fill="#2962ff" rx="2.5"/>
<text x="560.9" y="185.1" font-size="8.6" fill="#fff" text-anchor="middle">0.783</text>
<rect x="491.9" y="359.3" width="87.1" height="47.0" fill="#2962ff" fill-opacity="0.18"/>
<line x1="491.9" y1="359.6" x2="579.0" y2="359.6" stroke="#2962ff" stroke-width="1.2"/>
<line x1="491.9" y1="405.8" x2="579.0" y2="405.8" stroke="#2962ff" stroke-width="1.2"/>
<line x1="535.2" y1="359.5" x2="535.2" y2="405.5" stroke="#2962ff" stroke-width="1.2"/>
<polyline points="527.8,398.4 535.2,405.6 542.7,398.4" fill="none" stroke="#2962ff" stroke-width="1.2"/>
<rect x="483.8" y="414" width="102.6" height="17" rx="3" fill="#fff" stroke="#e0e3eb" stroke-width="0.8"/>
<text x="491.3" y="425.2" font-size="8.85" fill="#434651">-4.008 (-7.03%) -400.8</text>
<rect x="720.0" y="0.0" width="48.0" height="518.0" fill="#fff"/>
<text x="727.4" y="466.8" font-size="9" fill="#131722" textLength="25.6" lengthAdjust="spacingAndGlyphs">48.000</text>
<text x="727.4" y="443.8" font-size="9" fill="#131722" textLength="25.6" lengthAdjust="spacingAndGlyphs">50.000</text>
<text x="727.4" y="420.7" font-size="9" fill="#131722" textLength="25.6" lengthAdjust="spacingAndGlyphs">52.000</text>
<text x="727.4" y="397.7" font-size="9" fill="#131722" textLength="25.6" lengthAdjust="spacingAndGlyphs">54.000</text>
<text x="727.4" y="374.7" font-size="9" fill="#131722" textLength="25.6" lengthAdjust="spacingAndGlyphs">56.000</text>
<text x="727.4" y="351.6" font-size="9" fill="#131722" textLength="25.6" lengthAdjust="spacingAndGlyphs">58.000</text>
<text x="727.4" y="328.6" font-size="9" fill="#131722" textLength="25.6" lengthAdjust="spacingAndGlyphs">60.000</text>
<text x="727.4" y="305.5" font-size="9" fill="#131722" textLength="25.6" lengthAdjust="spacingAndGlyphs">62.000</text>
<text x="727.4" y="282.5" font-size="9" fill="#131722" textLength="25.6" lengthAdjust="spacingAndGlyphs">64.000</text>
<text x="727.4" y="259.5" font-size="9" fill="#131722" textLength="25.6" lengthAdjust="spacingAndGlyphs">66.000</text>
<text x="727.4" y="236.4" font-size="9" fill="#131722" textLength="25.6" lengthAdjust="spacingAndGlyphs">68.000</text>
<text x="727.4" y="213.4" font-size="9" fill="#131722" textLength="25.6" lengthAdjust="spacingAndGlyphs">70.000</text>
<text x="727.4" y="190.3" font-size="9" fill="#131722" textLength="25.6" lengthAdjust="spacingAndGlyphs">72.000</text>
<text x="727.4" y="167.3" font-size="9" fill="#131722" textLength="25.6" lengthAdjust="spacingAndGlyphs">74.000</text>
<text x="727.4" y="144.3" font-size="9" fill="#131722" textLength="25.6" lengthAdjust="spacingAndGlyphs">76.000</text>
<text x="727.4" y="121.2" font-size="9" fill="#131722" textLength="25.6" lengthAdjust="spacingAndGlyphs">78.000</text>
<text x="727.4" y="98.2" font-size="9" fill="#131722" textLength="25.6" lengthAdjust="spacingAndGlyphs">80.000</text>
<text x="727.4" y="75.1" font-size="9" fill="#131722" textLength="25.6" lengthAdjust="spacingAndGlyphs">82.000</text>
<text x="727.4" y="52.1" font-size="9" fill="#131722" textLength="25.6" lengthAdjust="spacingAndGlyphs">84.000</text>
<text x="727.4" y="29.1" font-size="9" fill="#131722" textLength="25.6" lengthAdjust="spacingAndGlyphs">86.000</text>
<rect x="721.0" y="0.0" width="47.0" height="24.6" fill="#fff"/>
<rect x="723.5" y="2.5" width="41.5" height="18.5" rx="3" fill="#fff" stroke="#e0e3eb" stroke-width="1"/>
<text x="730.4" y="14.9" font-size="8.4" fill="#131722">USD</text>
<rect x="721.3" y="192.2" width="35.8" height="11.7" fill="#f23645" rx="1"/>
<text x="728.1" y="201.2" font-size="9" fill="#fff" textLength="25.3" lengthAdjust="spacingAndGlyphs">71.081</text>
<rect x="721.3" y="240.5" width="35.8" height="11.7" fill="#673ab7" rx="1"/>
<text x="728.1" y="249.5" font-size="9" fill="#fff" textLength="25.3" lengthAdjust="spacingAndGlyphs">66.940</text>
<rect x="721.3" y="291.6" width="35.8" height="11.7" fill="#f23645" rx="1"/>
<text x="728.1" y="300.7" font-size="9" fill="#fff" textLength="25.3" lengthAdjust="spacingAndGlyphs">62.464</text>
<rect x="721.3" y="307.2" width="35.8" height="11.7" fill="#f23645" rx="1"/>
<text x="728.1" y="316.3" font-size="9" fill="#fff" textLength="25.3" lengthAdjust="spacingAndGlyphs">61.084</text>
<rect x="721.3" y="334.2" width="35.8" height="11.7" fill="#f23645" rx="1"/>
<text x="728.1" y="343.3" font-size="9" fill="#fff" textLength="25.3" lengthAdjust="spacingAndGlyphs">58.757</text>
<rect x="721.3" y="352.0" width="35.8" height="11.7" fill="#f23645" rx="1"/>
<text x="728.1" y="361.1" font-size="9" fill="#fff" textLength="25.3" lengthAdjust="spacingAndGlyphs">57.210</text>
<rect x="721.3" y="376.6" width="35.8" height="11.7" fill="#f23645" rx="1"/>
<text x="728.1" y="385.7" font-size="9" fill="#fff" textLength="25.3" lengthAdjust="spacingAndGlyphs">55.048</text>
<rect x="721.3" y="399.4" width="35.8" height="11.7" fill="#f23645" rx="1"/>
<text x="728.1" y="408.5" font-size="9" fill="#fff" textLength="25.3" lengthAdjust="spacingAndGlyphs">53.120</text>
<rect x="721.3" y="445.5" width="35.8" height="11.7" fill="#f23645" rx="1"/>
<text x="728.1" y="454.6" font-size="9" fill="#fff" textLength="25.3" lengthAdjust="spacingAndGlyphs">49.085</text>
<rect x="721.3" y="471.6" width="35.8" height="11.7" fill="#f23645" rx="1"/>
<text x="728.1" y="480.6" font-size="9" fill="#fff" textLength="25.3" lengthAdjust="spacingAndGlyphs">46.815</text>
<rect x="721.3" y="483.5" width="35.8" height="11.7" fill="#f23645" rx="1"/>
<text x="728.1" y="492.6" font-size="9" fill="#fff" textLength="25.3" lengthAdjust="spacingAndGlyphs">46.190</text>
<rect x="720.8" y="141.3" width="44.2" height="22.2" fill="#089981" rx="1"/>
<text x="727.4" y="150.5" font-size="9" fill="#fff" textLength="25.3" lengthAdjust="spacingAndGlyphs">75.472</text>
<text x="727.4" y="160.4" font-size="8.3" fill="#fff" fill-opacity="0.85">03:23:18</text>
<text x="1.5" y="511.1" font-size="8.6" fill="#131722" text-anchor="middle">9</text>
<text x="49.7" y="511.1" font-size="8.6" fill="#131722" text-anchor="middle">23</text>
<text x="88.6" y="511.1" font-size="8.6" fill="#131722" text-anchor="middle">26</text>
<text x="141.8" y="511.1" font-size="8.2" fill="#131722" text-anchor="middle">ديسمبر</text>
<text x="195.8" y="511.1" font-size="8.6" fill="#131722" text-anchor="middle">4</text>
<text x="250.2" y="511.1" font-size="8.6" fill="#131722" text-anchor="middle">9</text>
<text x="303.7" y="511.1" font-size="8.6" fill="#131722" text-anchor="middle">12</text>
<text x="357.7" y="511.1" font-size="8.6" fill="#131722" text-anchor="middle">17</text>
<text x="407.8" y="511.1" font-size="8.6" fill="#131722" text-anchor="middle">21</text>
<text x="447.3" y="511.1" font-size="8.6" fill="#131722" text-anchor="middle">24</text>
<text x="530.8" y="511.1" font-size="8.6" fill="#131722" text-anchor="middle" font-weight="bold">2026</text>
<text x="584.3" y="511.1" font-size="8.6" fill="#131722" text-anchor="middle">7</text>
<text x="634.8" y="511.1" font-size="8.6" fill="#131722" text-anchor="middle">11</text>
<text x="674.2" y="511.1" font-size="8.6" fill="#131722" text-anchor="middle">14</text>
<circle cx="611.5" cy="488.4" r="6.6" fill="#fff" stroke="#9c27b0" stroke-width="1.1"/>
<path d="M613 484.2 L608.6 489.4 L611.2 489.4 L610 492.8 L614.4 487.5 L611.8 487.5 Z" fill="#9c27b0"/>
<g><circle cx="629.8" cy="488.4" r="6.6" fill="#fff" stroke="#f23645" stroke-width="1.1"/>
<clipPath id="c6298"><circle cx="629.8" cy="488.4" r="5.0"/></clipPath><g clip-path="url(#c6298)">
<rect x="623.1999999999999" y="484.78" width="13.2" height="1.45" fill="#f0586a"/>
<rect x="623.1999999999999" y="487.68" width="13.2" height="1.45" fill="#f0586a"/>
<rect x="623.1999999999999" y="490.58" width="13.2" height="1.45" fill="#f0586a"/>
<rect x="623.1999999999999" y="481.79999999999995" width="7.1" height="7.199999999999999" fill="#5b8def"/></g></g>
<g><circle cx="625.8" cy="488.4" r="6.6" fill="#fff" stroke="#f23645" stroke-width="1.1"/>
<clipPath id="c6258"><circle cx="625.8" cy="488.4" r="5.0"/></clipPath><g clip-path="url(#c6258)">
<rect x="619.1999999999999" y="484.78" width="13.2" height="1.45" fill="#f0586a"/>
<rect x="619.1999999999999" y="487.68" width="13.2" height="1.45" fill="#f0586a"/>
<rect x="619.1999999999999" y="490.58" width="13.2" height="1.45" fill="#f0586a"/>
<rect x="619.1999999999999" y="481.79999999999995" width="7.1" height="7.199999999999999" fill="#5b8def"/></g></g>
<g><circle cx="661.7" cy="488.4" r="6.6" fill="#fff" stroke="#f23645" stroke-width="1.1"/>
<clipPath id="c6617"><circle cx="661.7" cy="488.4" r="5.0"/></clipPath><g clip-path="url(#c6617)">
<rect x="655.1" y="484.78" width="13.2" height="1.45" fill="#f0586a"/>
<rect x="655.1" y="487.68" width="13.2" height="1.45" fill="#f0586a"/>
<rect x="655.1" y="490.58" width="13.2" height="1.45" fill="#f0586a"/>
<rect x="655.1" y="481.79999999999995" width="7.1" height="7.199999999999999" fill="#5b8def"/></g></g>
<g><circle cx="683.5" cy="488.4" r="6.6" fill="#fff" stroke="#f23645" stroke-width="1.1"/>
<clipPath id="c6835"><circle cx="683.5" cy="488.4" r="5.0"/></clipPath><g clip-path="url(#c6835)">
<rect x="676.9" y="484.78" width="13.2" height="1.45" fill="#f0586a"/>
<rect x="676.9" y="487.68" width="13.2" height="1.45" fill="#f0586a"/>
<rect x="676.9" y="490.58" width="13.2" height="1.45" fill="#f0586a"/>
<rect x="676.9" y="481.79999999999995" width="7.1" height="7.199999999999999" fill="#5b8def"/></g></g>
<g><circle cx="680" cy="488.4" r="6.6" fill="#fff" stroke="#f23645" stroke-width="1.1"/>
<clipPath id="c6800"><circle cx="680" cy="488.4" r="5.0"/></clipPath><g clip-path="url(#c6800)">
<rect x="673.4" y="484.78" width="13.2" height="1.45" fill="#f0586a"/>
<rect x="673.4" y="487.68" width="13.2" height="1.45" fill="#f0586a"/>
<rect x="673.4" y="490.58" width="13.2" height="1.45" fill="#f0586a"/>
<rect x="673.4" y="481.79999999999995" width="7.1" height="7.199999999999999" fill="#5b8def"/></g></g>
<text x="5.9" y="15.4" font-size="10" fill="#131722" stroke="#131722" stroke-width="0.2" style="unicode-bidi:bidi-override;direction:ltr">FXCM · <tspan font-size="8.45" stroke-width="0" font-family="'DejaVu Sans', sans-serif">دولار أمريكي / معدن الفضة · </tspan>4<tspan font-size="8.45" stroke-width="0" font-family="'DejaVu Sans', sans-serif">ساعة</tspan></text>
</svg>
</body></html>
